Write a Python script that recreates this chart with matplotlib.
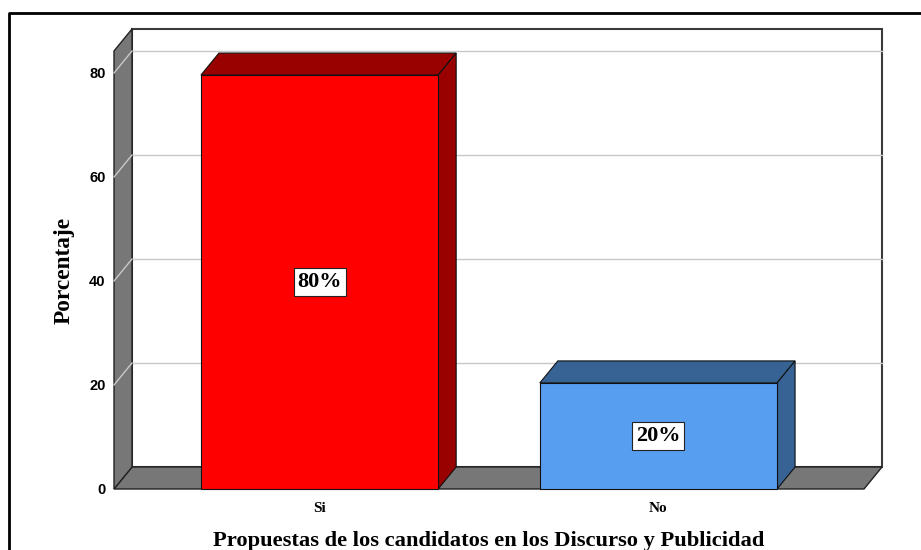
import matplotlib
matplotlib.use("Agg")
import matplotlib.pyplot as plt
from matplotlib.patches import Polygon, Rectangle
from matplotlib.lines import Line2D

# Data
categories = ["Si", "No"]
values = [79.6, 20.4]
pct_labels = ["80%", "20%"]
yticks = [0, 20, 40, 60, 80]

front_colors = ["#FF0000", "#589EF0"]
side_colors = ["#990000", "#366294"]

plt.rcParams['font.family'] = ['Liberation Serif', 'DejaVu Serif']

W, H = 921, 550
fig = plt.figure(figsize=(W / 100, H / 100), dpi=100)
ax = fig.add_axes([114 / W, 61 / H, 750 / W, 438 / H])

XMIN, XMAX = -0.6065, 1.6065
YTOP = 84.23
ax.set_xlim(XMIN, XMAX)
ax.set_ylim(0, YTOP)

# depth of the 3D effect, in data units (18 px right, 22 px up)
DX = 18 / (750 / (XMAX - XMIN))
DY = 22 / (438 / YTOP)
GRAY = "#777777"

# back wall
ax.add_patch(Rectangle((XMIN + DX, DY), XMAX - XMIN, YTOP, facecolor="white",
                       edgecolor="#3a3a3a", lw=1.5, clip_on=False, zorder=1))
for t in yticks[1:]:
    ax.add_line(Line2D([XMIN + DX, XMAX + DX], [t + DY, t + DY], color="#C8C8C8",
                       lw=1, clip_on=False, zorder=2))

# floor
ax.add_patch(Polygon([(XMIN, 0), (XMAX, 0), (XMAX + DX, DY), (XMIN + DX, DY)],
                     facecolor=GRAY, edgecolor="#222222", lw=1, clip_on=False, zorder=3))
# left wall
ax.add_patch(Polygon([(XMIN, 0), (XMIN, YTOP), (XMIN + DX, YTOP + DY), (XMIN + DX, DY)],
                     facecolor=GRAY, edgecolor="#222222", lw=1, clip_on=False, zorder=3))
for t in yticks[1:]:
    ax.add_line(Line2D([XMIN, XMIN + DX], [t, t + DY], color="#C8C8C8",
                       lw=1, clip_on=False, zorder=4))

# bars
bw = 0.7
for i, (v, fc, sc) in enumerate(zip(values, front_colors, side_colors)):
    x0, x1 = i - bw / 2, i + bw / 2
    ax.add_patch(Polygon([(x0, v), (x1, v), (x1 + DX, v + DY), (x0 + DX, v + DY)],
                         facecolor=sc, edgecolor="#111111", lw=0.8, clip_on=False, zorder=5))
    ax.add_patch(Polygon([(x1, 0), (x1 + DX, DY), (x1 + DX, v + DY), (x1, v)],
                         facecolor=sc, edgecolor="#111111", lw=0.8, clip_on=False, zorder=5))
    ax.add_patch(Rectangle((x0, 0), bw, v, facecolor=fc, edgecolor="#111111",
                           lw=0.8, clip_on=False, zorder=6))
    ax.text(i, v / 2, pct_labels[i], ha="center", va="center", fontsize=16,
            fontweight="bold", zorder=7,
            bbox=dict(boxstyle="square,pad=0.17", facecolor="white",
                      edgecolor="#222222", lw=0.8))

for s in ax.spines.values():
    s.set_visible(False)
ax.set_yticks(yticks)
ax.set_yticklabels([str(t) for t in yticks], fontsize=10.5, fontweight="bold",
                   family=["Liberation Sans", "DejaVu Sans"])
ax.set_xticks(range(len(categories)))
ax.set_xticklabels(categories, fontsize=11, fontweight="bold")
ax.tick_params(axis="y", length=0, pad=6)
ax.tick_params(axis="x", length=0, pad=9)

ax.set_ylabel("Porcentaje", fontsize=16.8, fontweight="bold")
ax.yaxis.set_label_coords((75 - 114) / 750, (489 - 270) / 438)
fig.text(489 / W, 9 / H, "Propuestas de los candidatos en los Discurso y Publicidad",
         ha="center", va="center", fontsize=16.2, fontweight="bold")

# outer frame
fig.add_artist(Line2D([9 / W, 9 / W, 1], [0, 537 / H, 537 / H],
                      transform=fig.transFigure, color="black", lw=2))

fig.savefig("out.png", dpi=100)
